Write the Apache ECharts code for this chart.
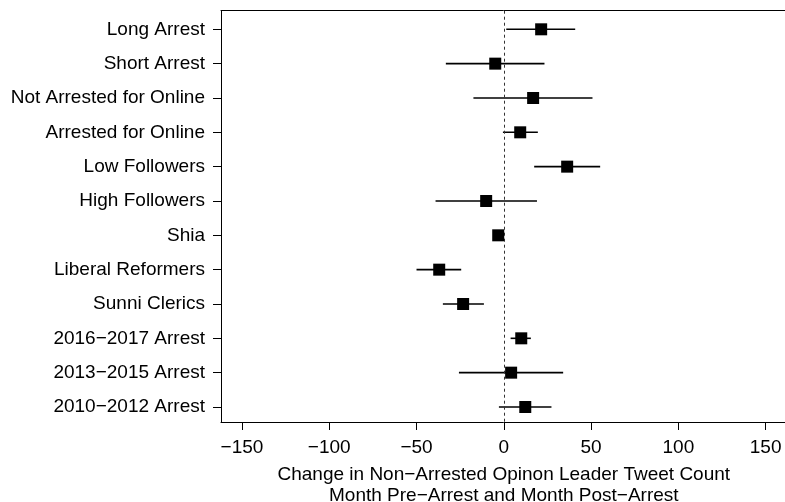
<!DOCTYPE html>
<html>
<head>
<meta charset="utf-8">
<script src="https://cdn.jsdelivr.net/npm/echarts@6/dist/echarts.min.js"></script>
<style>html,body{margin:0;padding:0;background:#fff;}#c{width:785px;height:502px;}</style>
</head>
<body>
<div id="c"></div>
<script>
const categories = ['Long Arrest','Short Arrest','Not Arrested for Online','Arrested for Online','Low Followers','High Followers','Shia','Liberal Reformers','Sunni Clerics','2016\u22122017 Arrest','2013\u22122015 Arrest','2010\u22122012 Arrest'];
const estimates = [21.4,-4.9,16.8,9.4,36.3,-10.1,-3.2,-37.0,-23.3,10.0,4.2,12.3];
const lower = [1.4,-33.2,-17.4,-0.5,17.4,-39.1,-5.0,-50.0,-34.9,3.9,-25.7,-2.8];
const upper = [40.9,23.3,50.8,19.5,55.2,19.0,-1.5,-24.4,-11.4,15.5,34.0,27.3];
const xTicks = [-150,-100,-50,0,50,100,150];
const xTitle = 'Change in Non\u2212Arrested Opinon Leader Tweet Count\nMonth Pre\u2212Arrest and Month Post\u2212Arrest';

const FONT = '"Liberation Sans", Arial, Helvetica, sans-serif';
const rowIdx = categories.map((_, i) => i);

const chart = echarts.init(document.getElementById('c'), null, {renderer: 'canvas'});
chart.setOption({
  animation: false,
  backgroundColor: '#fff',
  textStyle: {fontFamily: FONT},
  grid: {left: 221, top: 10.7, width: 565.6, height: 411.3, show: false, containLabel: false, outerBoundsMode: 'none'},
  xAxis: [{
    type: 'value', min: -162, max: 162, position: 'bottom',
    axisLine: {show: true, onZero: false, lineStyle: {color: '#000', width: 1}},
    splitLine: {show: false},
    axisTick: {show: true, length: 8, lineStyle: {color: '#000'}, customValues: xTicks},
    axisLabel: {color: '#000', fontSize: 19, fontFamily: FONT, margin: 16, customValues: xTicks,
      formatter: v => String(v).replace('-', '\u2212')},
    name: xTitle, nameLocation: 'middle', nameGap: 42,
    nameTextStyle: {color: '#000', fontSize: 19, fontFamily: FONT, lineHeight: 21}
  }, {
    type: 'value', min: -162, max: 162, position: 'top',
    axisLine: {show: true, onZero: false, lineStyle: {color: '#000', width: 1}},
    splitLine: {show: false}, axisTick: {show: false}, axisLabel: {show: false}
  }],
  yAxis: {
    type: 'value', inverse: true, min: -0.542, max: 11.437,
    axisLine: {show: true, onZero: false, lineStyle: {color: '#000', width: 1}},
    splitLine: {show: false},
    axisTick: {show: true, length: 8, lineStyle: {color: '#000'}, customValues: rowIdx},
    axisLabel: {color: '#000', fontSize: 19, fontFamily: FONT, margin: 16, customValues: rowIdx,
      formatter: v => categories[Math.round(v)]}
  },
  series: [
    {
      type: 'custom',
      data: rowIdx.map(i => [lower[i], i, upper[i]]),
      encode: {x: [0, 2], y: 1},
      renderItem: function (params, api) {
        const p1 = api.coord([api.value(0), api.value(1)]);
        const p2 = api.coord([api.value(2), api.value(1)]);
        return {type: 'line', shape: {x1: p1[0], y1: p1[1], x2: p2[0], y2: p2[1]},
          style: {stroke: '#000', lineWidth: 1.6}};
      },
      z: 3
    },
    {
      type: 'scatter',
      data: rowIdx.map(i => [estimates[i], i]),
      symbol: 'rect', symbolSize: 12,
      itemStyle: {color: '#000', opacity: 1},
      z: 5,
      markLine: {
        silent: true, symbol: ['none', 'none'],
        label: {show: false},
        lineStyle: {type: [3, 3], color: '#333', width: 1},
        data: [{xAxis: 0}]
      }
    }
  ]
});
</script>
</body>
</html>
